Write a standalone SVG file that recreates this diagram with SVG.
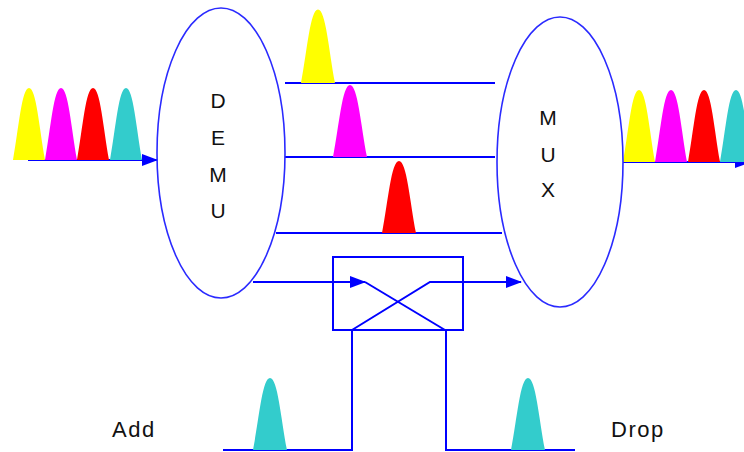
<svg xmlns="http://www.w3.org/2000/svg" xmlns:xlink="http://www.w3.org/1999/xlink" width="744" height="452" viewBox="0 0 744 452">
<style>
.ln{stroke:#0000ff;stroke-width:2;fill:none}
.el{stroke:#2a2aff;stroke-width:1.6;fill:none}
.lbl{font-family:"Liberation Sans",Arial,sans-serif;font-size:21px;fill:#111;text-anchor:middle}
.tx{font-family:"Liberation Sans",Arial,sans-serif;font-size:22px;fill:#111;letter-spacing:1.5px}
</style>
<defs>
<path id="pulse" d="M0,0 C6,-32 9,-72 16.5,-72 C24,-72 27,-32 33,0 Z"/>
<marker id="ah" markerWidth="16" markerHeight="12" refX="15" refY="6" orient="auto" markerUnits="userSpaceOnUse">
<path d="M0,0 L16,6 L0,12 Z" fill="#0000ff"/>
</marker>
</defs>
<rect width="744" height="452" fill="#fff"/>

<g id="connectors">
<line class="ln" x1="28" y1="160" x2="157" y2="160" marker-end="url(#ah)"/>
<line class="ln" x1="623" y1="162" x2="750" y2="162" marker-end="url(#ah)"/>
<line class="ln" x1="285" y1="83" x2="495" y2="83"/>
<line class="ln" x1="285" y1="157" x2="495" y2="157"/>
<line class="ln" x1="276" y1="233" x2="502" y2="233"/>
<line class="ln" x1="253" y1="282" x2="365" y2="282" marker-end="url(#ah)"/>
<polyline class="ln" points="365,282 445,330"/>
<polyline class="ln" points="352,330 430,282 521,282"/>
<line class="ln" x1="505" y1="282" x2="521" y2="282" marker-end="url(#ah)"/>
<polyline class="ln" points="223,450 352,450 352,330"/>
<polyline class="ln" points="446,330 446,450 575,450"/>
</g>

<g id="input-pulses">
<use xlink:href="#pulse" transform="translate(13,160) scale(0.97,1)" fill="#ffff00"/>
<use xlink:href="#pulse" transform="translate(45,160) scale(0.97,1)" fill="#ff00ff"/>
<use xlink:href="#pulse" transform="translate(77,160) scale(0.97,1)" fill="#ff0000"/>
<use xlink:href="#pulse" transform="translate(110,160) scale(0.97,1)" fill="#33cccc"/>
</g>

<g id="output-pulses">
<use xlink:href="#pulse" transform="translate(623,162) scale(0.97,1)" fill="#ffff00"/>
<use xlink:href="#pulse" transform="translate(655,162) scale(0.97,1)" fill="#ff00ff"/>
<use xlink:href="#pulse" transform="translate(688,162) scale(0.97,1)" fill="#ff0000"/>
<use xlink:href="#pulse" transform="translate(720,162) scale(0.97,1)" fill="#33cccc"/>
</g>

<g id="channel-pulses">
<use xlink:href="#pulse" transform="translate(301,83) scale(1.03,1.02)" fill="#ffff00"/>
<use xlink:href="#pulse" transform="translate(333,157) scale(1.03,1)" fill="#ff00ff"/>
<use xlink:href="#pulse" transform="translate(382,233) scale(1.03,1)" fill="#ff0000"/>
<use xlink:href="#pulse" transform="translate(253,450) scale(1.03,1)" fill="#33cccc"/>
<use xlink:href="#pulse" transform="translate(511,450) scale(1.03,1)" fill="#33cccc"/>
</g>

<g id="switch">
<rect class="ln" x="333" y="257" width="130" height="73"/>
</g>

<g id="demux">
<ellipse class="el" cx="221" cy="153" rx="64" ry="145"/>
<text class="lbl" x="218" y="108">D</text>
<text class="lbl" x="218" y="145">E</text>
<text class="lbl" x="218" y="182">M</text>
<text class="lbl" x="218" y="218">U</text>
</g>

<g id="mux">
<ellipse class="el" cx="560" cy="162" rx="63" ry="145"/>
<text class="lbl" x="548" y="125">M</text>
<text class="lbl" x="548" y="162">U</text>
<text class="lbl" x="548" y="197">X</text>
</g>

<g id="labels">
<text class="tx" x="112" y="437">Add</text>
<text class="tx" x="611" y="437">Drop</text>
</g>
</svg>
